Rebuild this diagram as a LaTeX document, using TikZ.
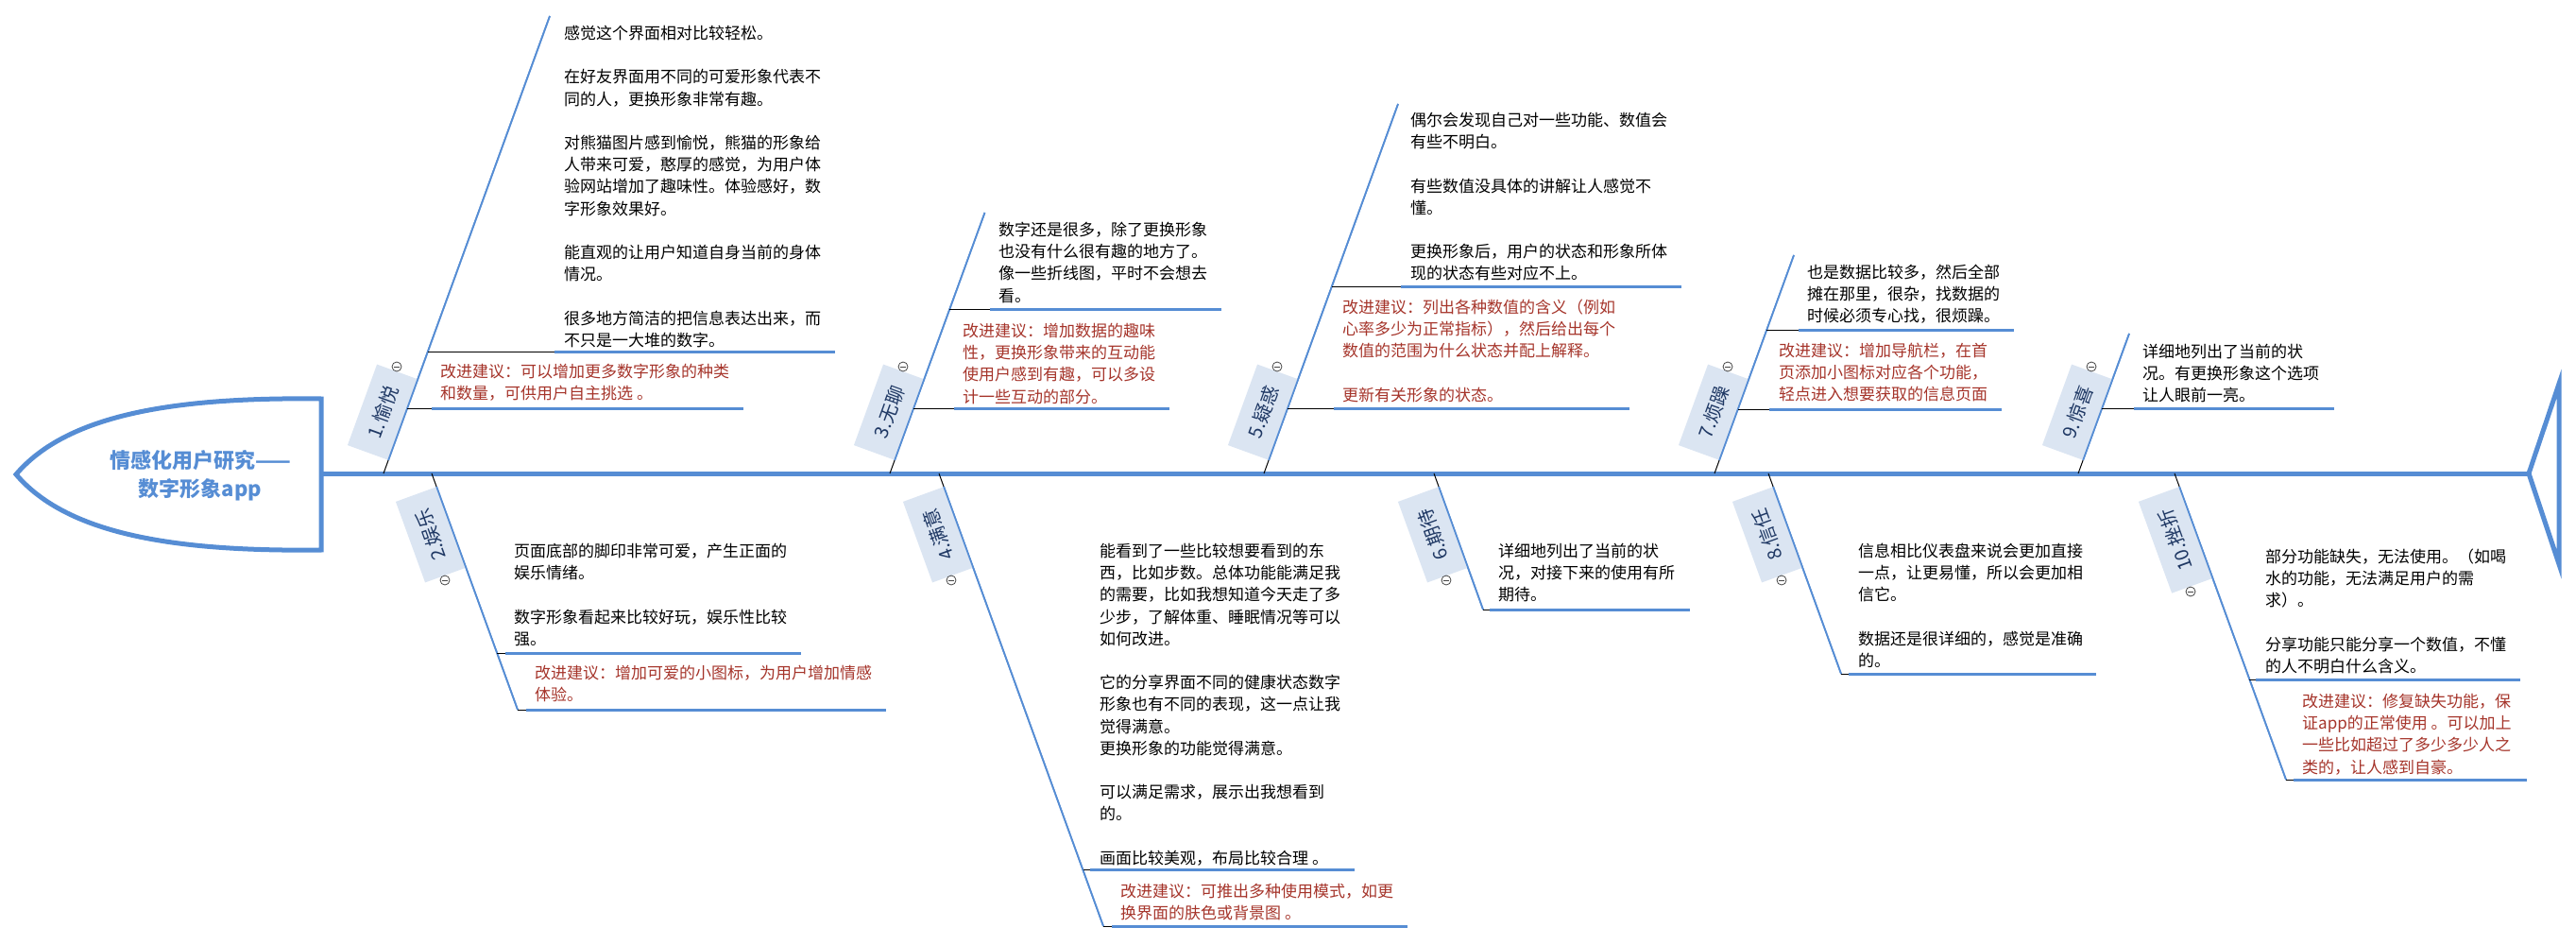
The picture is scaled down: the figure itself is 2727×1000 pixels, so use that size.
\documentclass[tikz,border=0pt]{standalone}
\usepackage{fontspec}
\newfontfamily\cjk{Noto Sans CJK SC}
\usetikzlibrary{calc}

\definecolor{fishblue}{RGB}{86,141,212}
\definecolor{labfill}{RGB}{219,229,242}
\definecolor{labtext}{RGB}{31,56,100}
\definecolor{advred}{RGB}{165,52,42}
\definecolor{foldgray}{RGB}{70,70,70}

% a block of lines whose reference point is the first baseline
\newcommand\txt[1]{\begin{tabular}[t]{@{}l@{}}#1\end{tabular}}

\tikzset{
  spine/.style={draw=fishblue, line width=5pt, line join=miter},
  bone/.style={draw=fishblue, line width=1.7pt},
  stub/.style={draw=black, line width=1pt},
  rulebar/.style={draw=fishblue, line width=3pt},
  lab/.style={fill=labfill, text=labtext, minimum width=91pt, minimum height=46pt,
              inner sep=0pt, font=\cjk\fontsize{20}{24}\selectfont},
  body/.style={anchor=base west, inner sep=0pt, font=\cjk\fontsize{17}{23.2}\selectfont},
  advice/.style={body, text=advred},
  fold/.style={circle, draw=foldgray, line width=0.8pt, minimum size=10pt, inner sep=0pt},
  foldbar/.style={draw=foldgray, line width=0.8pt},
}

% underline of a sub-topic: thin stub from the bone, then the blue bar
\newcommand\ruled[5]{%
  \coordinate (#1-o) at (#3,#2);
  \coordinate (#1-s) at (#4,#2);
  \coordinate (#1-e) at (#5,#2);
  \draw[stub] (#1-o) -- (#1-s);
  \draw[rulebar] (#1-s) -- (#1-e);
}

% bone from the spine: #1 name, #2 spine x, #3 end point
\newcommand\bonefrom[3]{%
  \coordinate (#1-s) at (#2,501);
  \coordinate (#1-t) at #3;
  \coordinate (#1-k) at ($(#1-s)!15pt!(#1-t)$);
  \draw[stub] (#1-s) -- (#1-k);
  \draw[bone] (#1-k) -- (#1-t);
}

% collapse marker
\newcommand\foldmark[2]{%
  \node[fold] (#1) at #2 {};
  \draw[foldbar] ([xshift=-2.6pt]#1.center) -- ([xshift=2.6pt]#1.center);
}

\begin{document}
\begin{tikzpicture}[x=1pt,y=-1pt]
\useasboundingbox (0,0) rectangle (2727,1000);

% ---------- head, spine, tail ----------
\draw[spine] (340,422) .. controls (180,420) and (70,440) .. (17,502)
             .. controls (70,564) and (180,584) .. (340,582) -- cycle;
\coordinate (spineL) at (340,501);
\coordinate (spineR) at (2677,501);
\draw[spine] (spineL) -- (spineR);
\coordinate (tailT) at (2709,406);
\coordinate (tailB) at (2709,597);
\draw[spine] (spineR) -- (tailT) -- (tailB) -- cycle;

\node[anchor=base, inner sep=0pt, text=fishblue,
      font=\cjk\bfseries\fontsize{22}{30}\selectfont] (title) at (212,495.4)
  {\begin{tabular}[t]{@{}c@{}}情感化用户研究——\\数字形象app\end{tabular}};

% ---------- 1 ----------
\bonefrom{b1}{406}{(582,17)}
\node[lab, rotate=70] (l1) at (405.1,436.2) {1.愉悦};
\draw[bone] (b1-k) -- (b1-t);
\foldmark{f1}{(420,388)}
\ruled{r1a}{372}{453}{587}{884}
\ruled{r1b}{432}{431}{457}{787}
\node[body] (p1) at (597,41.5) {\txt{%
感觉这个界面相对比较轻松。\\ \\
在好友界面用不同的可爱形象代表不\\
同的人，更换形象非常有趣。\\ \\
对熊猫图片感到愉悦，熊猫的形象给\\
人带来可爱，憨厚的感觉，为用户体\\
验网站增加了趣味性。体验感好，数\\
字形象效果好。\\ \\
能直观的让用户知道自身当前的身体\\
情况。\\ \\
很多地方简洁的把信息表达出来，而\\
不只是一大堆的数字。}};
\node[advice] (q1) at (466,399.5) {\txt{%
改进建议：可以增加更多数字形象的种类\\
和数量，可供用户自主挑选 。}};

% ---------- 2 ----------
\bonefrom{b2}{457}{(548,751)}
\node[lab, rotate=110] (l2) at (456.1,565.8) {2.娱乐};
\draw[bone] (b2-k) -- (b2-t);
\foldmark{f2}{(471,614)}
\ruled{r2a}{691}{526}{535}{848}
\ruled{r2b}{751}{548}{557}{938}
\node[body] (p2) at (544,589.5) {\txt{%
页面底部的脚印非常可爱，产生正面的\\
娱乐情绪。\\ \\
数字形象看起来比较好玩，娱乐性比较\\
强。}};
\node[advice] (q2) at (566,718.5) {\txt{%
改进建议：增加可爱的小图标，为用户增加情感\\
体验。}};

% ---------- 3 ----------
\bonefrom{b3}{942}{(1042.5,225)}
\node[lab, rotate=70] (l3) at (941.1,436.2) {3.无聊};
\draw[bone] (b3-k) -- (b3-t);
\foldmark{f3}{(956,388)}
\ruled{r3a}{327}{1005}{1048}{1293}
\ruled{r3b}{432}{967}{1010}{1238}
\node[body] (p3) at (1057,249.5) {\txt{%
数字还是很多，除了更换形象\\
也没有什么很有趣的地方了。\\
像一些折线图，平时不会想去\\
看。}};
\node[advice] (q3) at (1019,356.5) {\txt{%
改进建议：增加数据的趣味\\
性，更换形象带来的互动能\\
使用户感到有趣，可以多设\\
计一些互动的部分。}};

% ---------- 4 ----------
\bonefrom{b4}{994}{(1168,980)}
\node[lab, rotate=110] (l4) at (993.1,565.8) {4.满意};
\draw[bone] (b4-k) -- (b4-t);
\foldmark{f4}{(1007,614)}
\ruled{r4a}{920}{1146.5}{1154}{1434}
\ruled{r4b}{980}{1168}{1177}{1490}
\node[body] (p4) at (1164,589.5) {\txt{%
能看到了一些比较想要看到的东\\
西，比如步数。总体功能能满足我\\
的需要，比如我想知道今天走了多\\
少步，了解体重、睡眠情况等可以\\
如何改进。\\ \\
它的分享界面不同的健康状态数字\\
形象也有不同的表现，这一点让我\\
觉得满意。\\
更换形象的功能觉得满意。\\ \\
可以满足需求，展示出我想看到\\
的。\\ \\
画面比较美观，布局比较合理 。}};
\node[advice] (q4) at (1186,949.5) {\txt{%
改进建议：可推出多种使用模式，如更\\
换界面的肤色或背景图 。}};

% ---------- 5 ----------
\bonefrom{b5}{1338}{(1480,110)}
\node[lab, rotate=70] (l5) at (1337.1,436.2) {5.疑惑};
\draw[bone] (b5-k) -- (b5-t);
\foldmark{f5}{(1352,388)}
\ruled{r5a}{303}{1410}{1483}{1780}
\ruled{r5b}{432}{1363}{1412}{1725}
\node[body] (p5) at (1493,133.5) {\txt{%
偶尔会发现自己对一些功能、数值会\\
有些不明白。\\ \\
有些数值没具体的讲解让人感觉不\\
懂。\\ \\
更换形象后，用户的状态和形象所体\\
现的状态有些对应不上。}};
\node[advice] (q5) at (1421,331.5) {\txt{%
改进建议：列出各种数值的含义（例如\\
心率多少为正常指标），然后给出每个\\
数值的范围为什么状态并配上解释。\\ \\
更新有关形象的状态。}};

% ---------- 6 ----------
\bonefrom{b6}{1518}{(1570,645)}
\node[lab, rotate=110] (l6) at (1517.1,565.8) {6.期待};
\draw[bone] (b6-k) -- (b6-t);
\foldmark{f6}{(1531,614)}
\ruled{r6a}{645}{1570}{1577}{1789}
\node[body] (p6) at (1586,589.5) {\txt{%
详细地列出了当前的状\\
况，对接下来的使用有所\\
期待。}};

% ---------- 7 ----------
\bonefrom{b7}{1815}{(1899,270)}
\node[lab, rotate=70] (l7) at (1814.1,436.2) {7.烦躁};
\draw[bone] (b7-k) -- (b7-t);
\foldmark{f7}{(1829,388)}
\ruled{r7a}{349}{1870}{1904}{2132}
\ruled{r7b}{433}{1840}{1873}{2119}
\node[body] (p7) at (1913,294.5) {\txt{%
也是数据比较多，然后全部\\
摊在那里，很杂，找数据的\\
时候必须专心找，很烦躁。}};
\node[advice] (q7) at (1883,377.5) {\txt{%
改进建议：增加导航栏，在首\\
页添加小图标对应各个功能，\\
轻点进入想要获取的信息页面}};

% ---------- 8 ----------
\bonefrom{b8}{1872}{(1949,713)}
\node[lab, rotate=110] (l8) at (1871.1,565.8) {8.信任};
\draw[bone] (b8-k) -- (b8-t);
\foldmark{f8}{(1886,614)}
\ruled{r8a}{713}{1949}{1957}{2219}
\node[body] (p8) at (1967,589.5) {\txt{%
信息相比仪表盘来说会更加直接\\
一点，让更易懂，所以会更加相\\
信它。\\ \\
数据还是很详细的，感觉是准确\\
的。}};

% ---------- 9 ----------
\bonefrom{b9}{2200}{(2254,353)}
\node[lab, rotate=70] (l9) at (2199.1,436.2) {9.惊喜};
\draw[bone] (b9-k) -- (b9-t);
\foldmark{f9}{(2214,388)}
\ruled{r9a}{432}{2225}{2259}{2471}
\node[body] (p9) at (2268,378.5) {\txt{%
详细地列出了当前的状\\
况。有更换形象这个选项\\
让人眼前一亮。}};

% ---------- 10 ----------
\bonefrom{b10}{2302}{(2420,825)}
\node[lab, rotate=110, minimum width=103pt] (l10) at (2303.1,571.4) {10.挫折};
\draw[bone] (b10-k) -- (b10-t);
\foldmark{f10}{(2319,626)}
\ruled{r10a}{719}{2381}{2388}{2668}
\ruled{r10b}{825}{2420}{2428}{2675}
\node[body] (p10) at (2398,595.5) {\txt{%
部分功能缺失，无法使用。（如喝\\
水的功能，无法满足用户的需\\
求）。\\ \\
分享功能只能分享一个数值，不懂\\
的人不明白什么含义。}};
\node[advice] (q10) at (2437,748.5) {\txt{%
改进建议：修复缺失功能，保\\
证app的正常使用 。可以加上\\
一些比如超过了多少多少人之\\
类的，让人感到自豪。}};

\end{tikzpicture}
\end{document}
